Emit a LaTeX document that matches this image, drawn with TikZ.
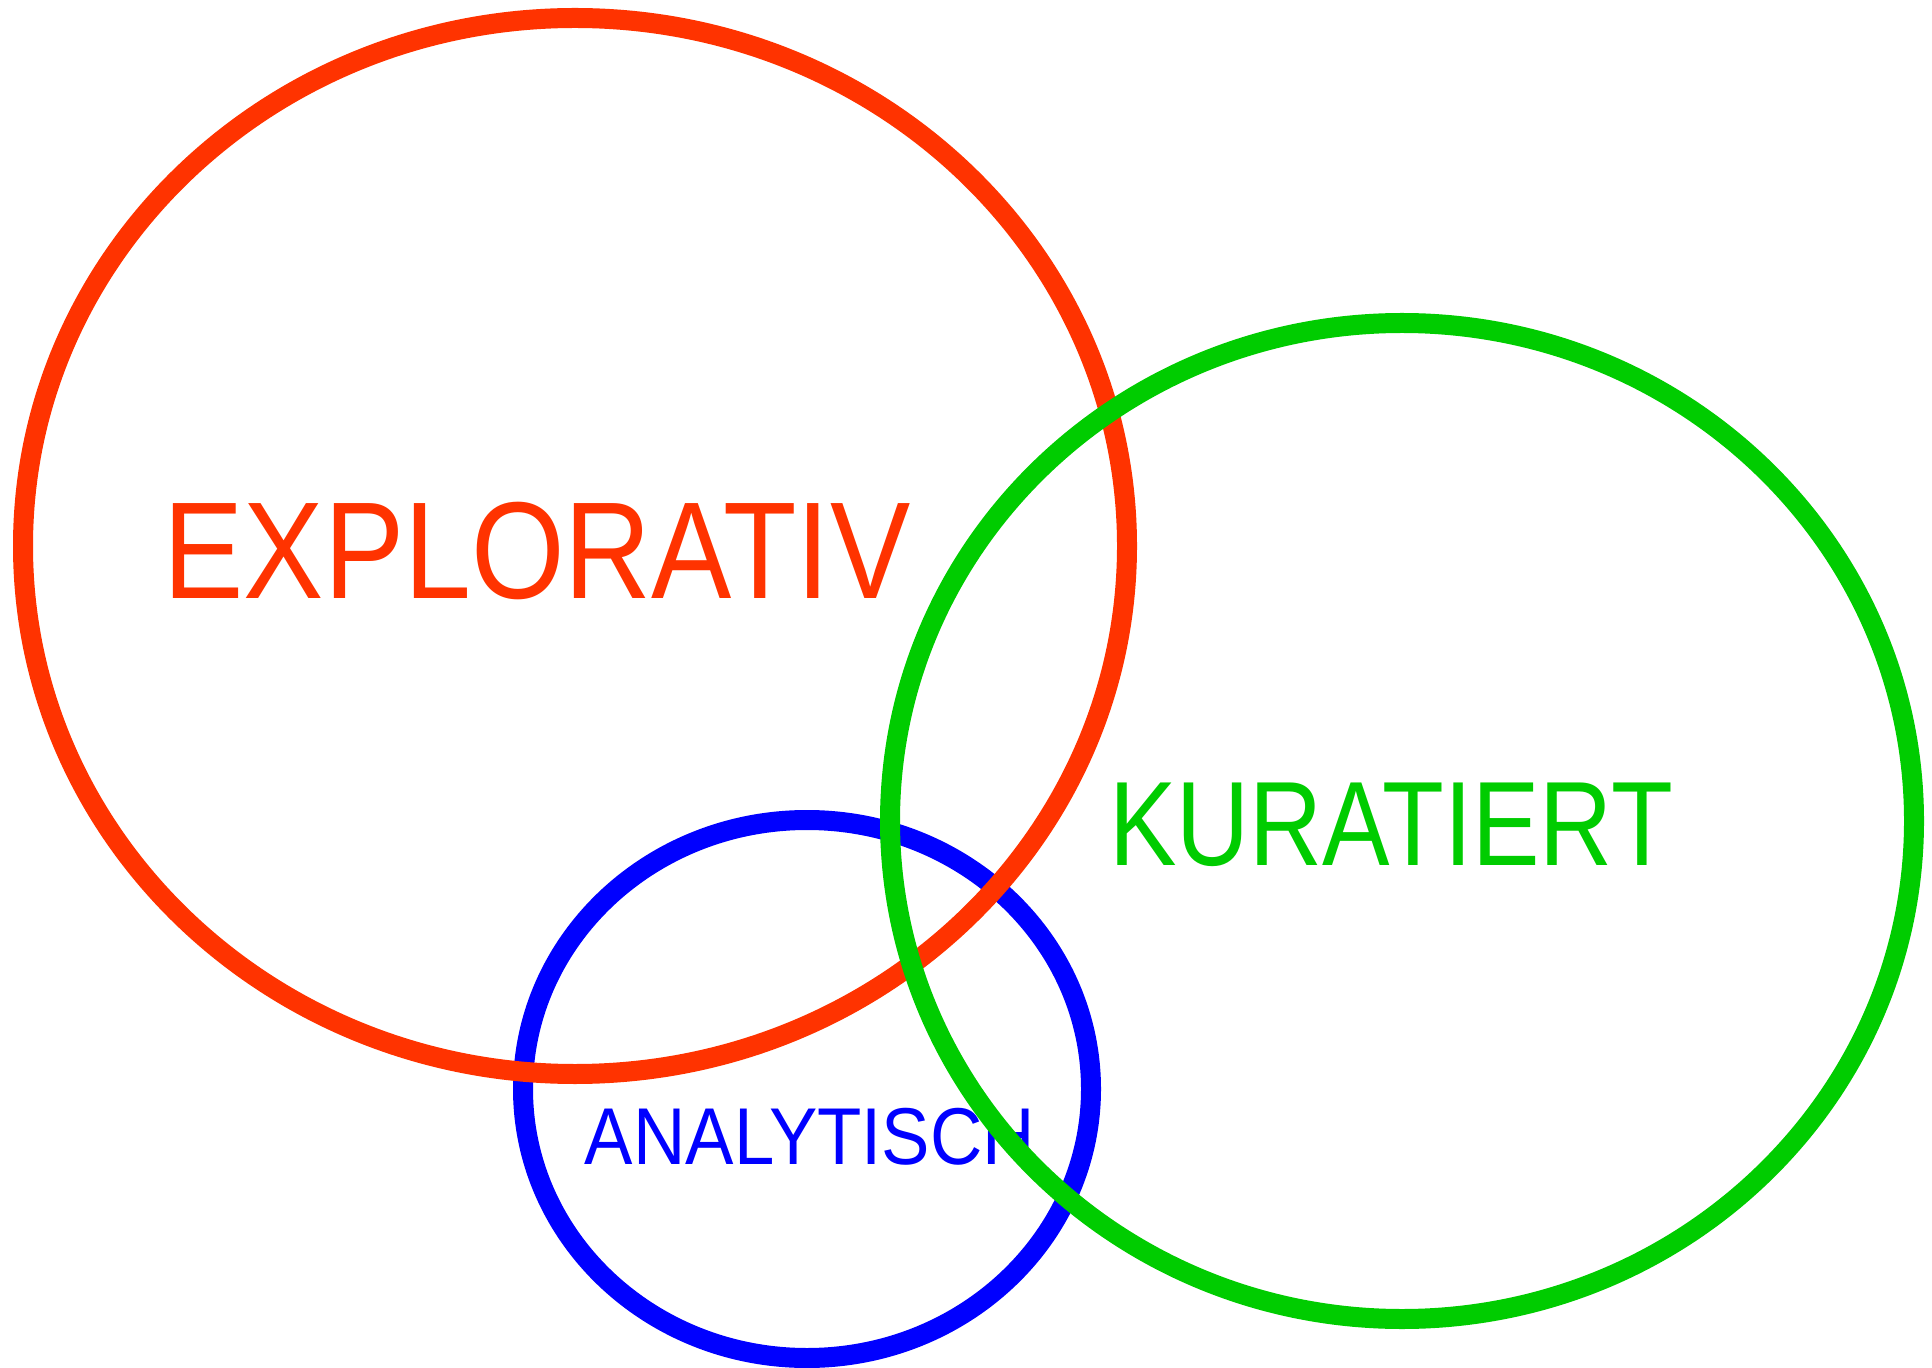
\documentclass[tikz,border=0pt]{standalone}
\usepackage{fontspec}
\setmainfont{Liberation Sans}
\usetikzlibrary{shapes}

\definecolor{explored}{HTML}{FF3300}
\definecolor{kurgreen}{HTML}{00CC00}
\definecolor{anablue}{HTML}{0000FF}

\begin{document}
\begin{tikzpicture}[x=0.5pt,y=-0.5pt]
			\tikzstyle{ring}=[line width=10pt]
			\tikzstyle{every node}=[inner sep=0pt,anchor=center]
			\useasboundingbox (0,0) rectangle (1932,1368);
			
			\draw[ring,anablue] (807,1089) ellipse [x radius=284,y radius=269];
			\node[anablue,xscale=0.9] (analytisch) at (810,1137) {\fontsize{40.3}{42}\selectfont ANALYTISCH};
			\draw[ring,explored] (575,546) ellipse [x radius=552,y radius=528];
			\draw[ring,kurgreen] (1402,821) ellipse [x radius=512,y radius=498];
			\node[explored,xscale=0.872] (explorativ) at (537,551) {\fontsize{69}{72}\selectfont EXPLORATIV};
			\node[kurgreen,xscale=0.843] (kuratiert) at (1391,825) {\fontsize{60}{62}\selectfont KURATIERT};
			\end{tikzpicture}
\end{document}
